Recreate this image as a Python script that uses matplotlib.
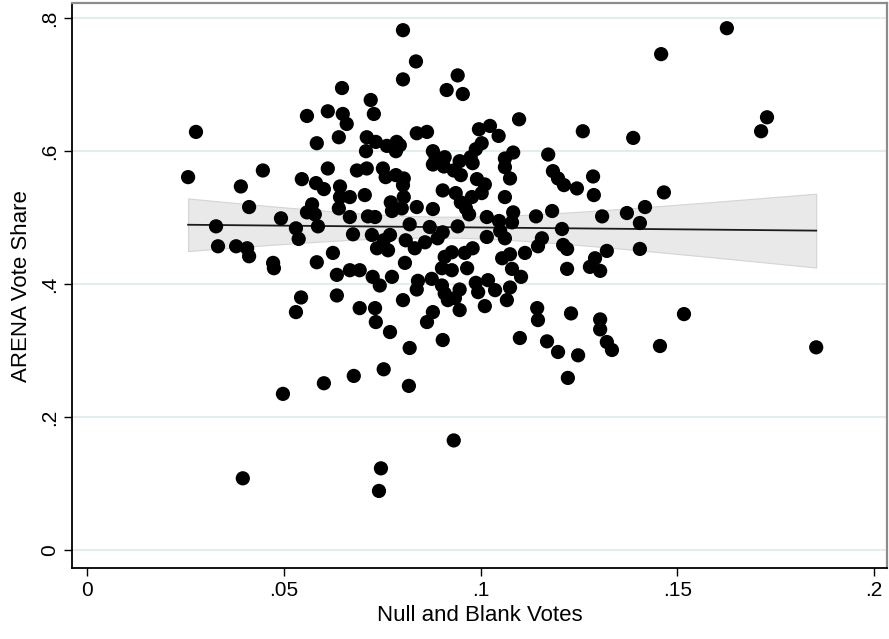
import matplotlib
matplotlib.use("Agg")
import matplotlib.pyplot as plt
import numpy as np

plt.rcParams.update({
    "font.family": ["Liberation Sans", "DejaVu Sans"],
    "font.size": 15,
})

# share of null/blank ballots and ARENA vote share per municipality
null_blank = [
    0.0257, 0.0277, 0.0328, 0.0333, 0.0379, 0.0407, 0.0412, 0.0391, 0.0412, 0.0447,
    0.0473, 0.0475, 0.0493, 0.0498, 0.0396, 0.0531, 0.0538, 0.0531, 0.0544, 0.0546,
    0.0559, 0.0584, 0.0582, 0.0602, 0.0572, 0.0559, 0.0579, 0.0587, 0.0584, 0.0602,
    0.0612, 0.0612, 0.0625, 0.0635, 0.0635, 0.0640, 0.0643, 0.0643, 0.0640, 0.0650,
    0.0660, 0.0648, 0.0668, 0.0668, 0.0721, 0.0729, 0.0711, 0.0734, 0.0709, 0.0762,
    0.0787, 0.0785, 0.0686, 0.0711, 0.0752, 0.0759, 0.0785, 0.0706, 0.0772, 0.0775,
    0.0714, 0.0732, 0.0676, 0.0724, 0.0754, 0.0765, 0.0737, 0.0668, 0.0693, 0.0726,
    0.0744, 0.0775, 0.0693, 0.0732, 0.0734, 0.0770, 0.0678, 0.0754, 0.0747, 0.0742,
    0.0770, 0.0803, 0.0836, 0.0803, 0.0914, 0.0838, 0.0864, 0.0795, 0.0879, 0.0886,
    0.0909, 0.0879, 0.0907, 0.0805, 0.0803, 0.0904, 0.0805, 0.0800, 0.0838, 0.0879,
    0.0820, 0.0871, 0.0904, 0.0810, 0.0833, 0.0859, 0.0891, 0.0909, 0.0808, 0.0902,
    0.0841, 0.0838, 0.0876, 0.0902, 0.0909, 0.0917, 0.0803, 0.0879, 0.0864, 0.0904,
    0.0820, 0.0818, 0.0932, 0.0942, 0.0955, 0.0996, 0.1024, 0.1046, 0.1003, 0.0988,
    0.0975, 0.0947, 0.0980, 0.0932, 0.0950, 0.0991, 0.1011, 0.1003, 0.0937, 0.0950,
    0.0978, 0.0963, 0.1016, 0.0942, 0.1016, 0.0960, 0.0980, 0.0927, 0.0927, 0.0966,
    0.0947, 0.0988, 0.0994, 0.1019, 0.1037, 0.0935, 0.0947, 0.1011, 0.0971, 0.1098,
    0.1083, 0.1062, 0.1062, 0.1075, 0.1172, 0.1184, 0.1197, 0.1062, 0.1083, 0.1182,
    0.1141, 0.1047, 0.1050, 0.1062, 0.1080, 0.1156, 0.1146, 0.1113, 0.1055, 0.1075,
    0.1080, 0.1103, 0.1075, 0.1067, 0.1144, 0.1146, 0.1100, 0.1169, 0.1197, 0.1212,
    0.1245, 0.1286, 0.1288, 0.1309, 0.1372, 0.1418, 0.1405, 0.1466, 0.1207, 0.1210,
    0.1220, 0.1321, 0.1405, 0.1220, 0.1278, 0.1291, 0.1304, 0.1260, 0.1388, 0.1459,
    0.1626, 0.1728, 0.1713, 0.1230, 0.1304, 0.1304, 0.1321, 0.1334, 0.1248, 0.1222,
    0.1456, 0.1517, 0.1853,
]
arena_share = [
    0.561, 0.629, 0.487, 0.457, 0.457, 0.454, 0.442, 0.547, 0.516, 0.571,
    0.432, 0.424, 0.499, 0.235, 0.108, 0.484, 0.468, 0.358, 0.380, 0.558,
    0.653, 0.612, 0.552, 0.543, 0.520, 0.508, 0.505, 0.487, 0.433, 0.251,
    0.660, 0.574, 0.447, 0.414, 0.383, 0.621, 0.547, 0.531, 0.514, 0.656,
    0.641, 0.695, 0.501, 0.531, 0.677, 0.656, 0.621, 0.614, 0.600, 0.608,
    0.614, 0.600, 0.571, 0.574, 0.574, 0.561, 0.564, 0.534, 0.523, 0.510,
    0.502, 0.501, 0.475, 0.474, 0.466, 0.451, 0.454, 0.421, 0.421, 0.411,
    0.398, 0.411, 0.364, 0.364, 0.343, 0.328, 0.262, 0.272, 0.123, 0.089,
    0.474, 0.782, 0.735, 0.708, 0.692, 0.627, 0.629, 0.609, 0.600, 0.589,
    0.591, 0.580, 0.577, 0.559, 0.549, 0.541, 0.531, 0.514, 0.516, 0.513,
    0.490, 0.486, 0.478, 0.466, 0.454, 0.463, 0.469, 0.441, 0.432, 0.424,
    0.405, 0.392, 0.408, 0.398, 0.386, 0.376, 0.376, 0.358, 0.343, 0.316,
    0.304, 0.247, 0.165, 0.714, 0.686, 0.633, 0.638, 0.623, 0.612, 0.603,
    0.591, 0.585, 0.582, 0.571, 0.564, 0.558, 0.550, 0.537, 0.537, 0.523,
    0.531, 0.514, 0.501, 0.487, 0.471, 0.447, 0.454, 0.448, 0.421, 0.424,
    0.392, 0.402, 0.388, 0.406, 0.391, 0.379, 0.361, 0.367, 0.505, 0.648,
    0.598, 0.589, 0.576, 0.559, 0.595, 0.570, 0.559, 0.531, 0.508, 0.510,
    0.502, 0.495, 0.480, 0.469, 0.493, 0.469, 0.457, 0.447, 0.439, 0.445,
    0.423, 0.411, 0.395, 0.376, 0.364, 0.346, 0.319, 0.314, 0.298, 0.549,
    0.544, 0.562, 0.534, 0.502, 0.507, 0.516, 0.492, 0.538, 0.483, 0.459,
    0.453, 0.450, 0.453, 0.423, 0.426, 0.439, 0.420, 0.630, 0.620, 0.746,
    0.785, 0.651, 0.630, 0.356, 0.347, 0.332, 0.313, 0.301, 0.293, 0.259,
    0.307, 0.355, 0.305,
]

x_ticks = [0, 0.05, 0.1, 0.15, 0.2]
x_tick_labels = ["0", ".05", ".1", ".15", ".2"]
y_ticks = [0, 0.2, 0.4, 0.6, 0.8]
y_tick_labels = ["0", ".2", ".4", ".6", ".8"]

x = np.array(null_blank)
y = np.array(arena_share)

# linear fit with 95% confidence interval of the mean prediction
n = len(x)
slope, intercept = np.polyfit(x, y, 1)
resid = y - (intercept + slope * x)
s = np.sqrt(np.sum(resid ** 2) / (n - 2))
sxx = np.sum((x - x.mean()) ** 2)
xs = np.linspace(x.min(), x.max(), 100)
fit = intercept + slope * xs
half = 1.97 * s * np.sqrt(1.0 / n + (xs - x.mean()) ** 2 / sxx)

fig = plt.figure(figsize=(8.89, 6.39), dpi=100)
ax = fig.add_axes([0.081, 0.111, 0.9168, 0.884])

ax.fill_between(xs, fit - half, fit + half, color="#e9e9e9", edgecolor="#d4d4d4",
                linewidth=0.8, zorder=1)
ax.plot(xs, fit, color="#1c1c1c", linewidth=1.3, zorder=2)
ax.scatter(x, y, s=105, color="black", edgecolors="none", zorder=3)

ax.set_xlim(-0.0038, 0.2033)
ax.set_ylim(-0.027, 0.8226)
ax.set_xticks(x_ticks)
ax.set_xticklabels(x_tick_labels)
ax.set_yticks(y_ticks)
ax.set_yticklabels(y_tick_labels, rotation=90, va="center")
ax.tick_params(direction="out", length=6, width=1, colors="black", labelsize=15,
               pad=3)

ax.yaxis.grid(True, color="#e3edf0", linewidth=1.5)
ax.set_axisbelow(True)

for side in ("left", "bottom"):
    ax.spines[side].set_color("black")
    ax.spines[side].set_linewidth(1.3)
for side in ("top", "right"):
    ax.spines[side].set_color("#8c8c8c")
    ax.spines[side].set_linewidth(1.6)

ax.set_xlabel("Null and Blank Votes", fontsize=16, labelpad=4)
ax.set_ylabel("ARENA Vote Share", fontsize=16, labelpad=6)

fig.savefig("out.png", dpi=100)
